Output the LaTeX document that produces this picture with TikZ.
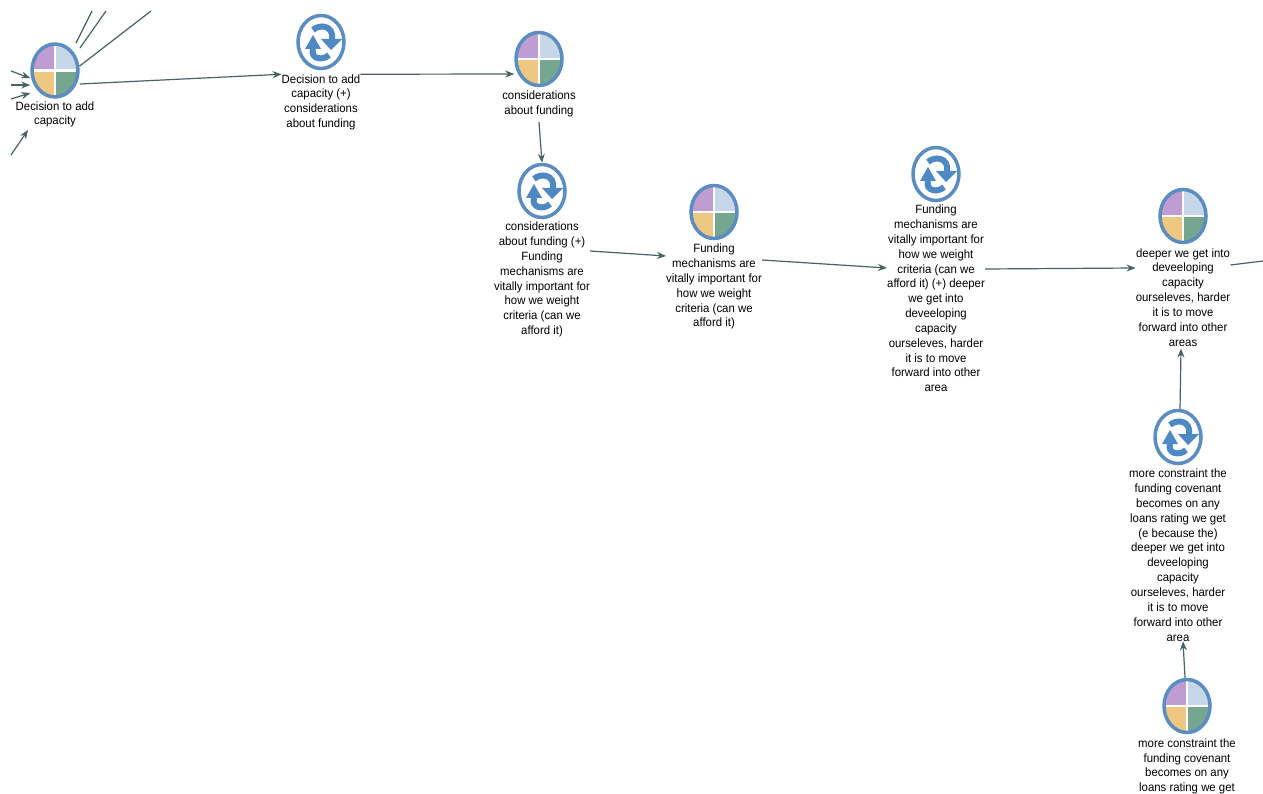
\documentclass[tikz,border=0pt]{standalone}
\usepackage{fontspec}
\setmainfont{Liberation Sans}
\usepackage{xcolor}
\usepackage{tikz}
\usetikzlibrary{positioning,arrows.meta,shapes.geometric}
\definecolor{ringblue}{HTML}{5B8DC1}
\definecolor{loopblue}{HTML}{4F89C3}
\definecolor{linkgreen}{HTML}{476363}
\definecolor{quadpurple}{HTML}{BF9DD2}
\definecolor{quadblue}{HTML}{C6D7E9}
\definecolor{quadyellow}{HTML}{EEC882}
\definecolor{quadgreen}{HTML}{77A690}
\tikzstyle{line} = [draw=linkgreen,line width=1.2pt]
\tikzstyle{link} = [line,-{Stealth[length=9pt,width=7pt]}]
\tikzstyle{caption} = [align=center,inner sep=0pt,font=\fontsize{12}{14.85}\selectfont\addfontfeatures{FakeStretch=0.95}]
\tikzstyle{concept} = [ellipse,draw=ringblue,line width=3.5pt,minimum width=46pt,minimum height=53pt,inner sep=0pt,
  path picture={
    \begin{scope}[shift={(path picture bounding box.center)}]
      \fill[quadpurple] (-30,-30) rectangle (0,0);
      \fill[quadblue] (0,-30) rectangle (30,0);
      \fill[quadyellow] (-30,0) rectangle (0,30);
      \fill[quadgreen] (0,0) rectangle (30,30);
      \fill[white] (-30,-1.4) rectangle (30,1.4);
      \fill[white] (-1.4,-30) rectangle (1.4,30);
    \end{scope}
  }]
\tikzstyle{loopnode} = [ellipse,draw=ringblue,line width=3.5pt,minimum width=46pt,minimum height=53pt,inner sep=0pt,
  path picture={
    \begin{scope}[shift={(path picture bounding box.center)}]
      \draw[loopblue,line width=6pt] (-8,-12) .. controls (-2,-18) and (13,-17) .. (11,-3);
      \fill[loopblue] (0,-3) -- (21,-3) -- (10,8) -- cycle;
      \draw[loopblue,line width=6pt] (8,13) .. controls (2,19) and (-11,17) .. (-8,7);
      \fill[loopblue] (0,7) -- (-16,7) -- (-8,-7) -- cycle;
    \end{scope}
  }]
\begin{document}
\begin{tikzpicture}[x=1pt,y=-1pt,node distance=4pt]
    \useasboundingbox[fill=white] (0,0) rectangle (1263,794);
    \node[concept] (decision) at (55,70.5) {};
    \node[caption] (decisioncap) [below = 2.5pt of decision] {Decision to add\\capacity};
    \node[loopnode] (loopa) at (321,42) {};
    \node[caption] (loopacap) [below = 4pt of loopa] {Decision to add\\capacity (+)\\considerations\\about funding};
    \node[concept] (funding) at (539,59) {};
    \node[caption] (fundingcap) [below = 3.5pt of funding] {considerations\\about funding};
    \node[loopnode] (loopb) at (542,191) {};
    \node[caption] (loopbcap) [below = 2.5pt of loopb] {considerations\\about funding (+)\\Funding\\mechanisms are\\vitally important for\\how we weight\\criteria (can we\\afford it)};
    \node[concept] (mechanisms) at (714,212) {};
    \node[caption] (mechanismscap) [below = 3.5pt of mechanisms] {Funding\\mechanisms are\\vitally important for\\how we weight\\criteria (can we\\afford it)};
    \node[loopnode] (loopc) at (936,174) {};
    \node[caption] (loopccap) [below = 2.5pt of loopc] {Funding\\mechanisms are\\vitally important for\\how we weight\\criteria (can we\\afford it) (+) deeper\\we get into\\deveeloping\\capacity\\ourseleves, harder\\it is to move\\forward into other\\area};
    \node[concept] (deeper) at (1183,216) {};
    \node[caption] (deepercap) [below = 4pt of deeper] {deeper we get into\\deveeloping\\capacity\\ourseleves, harder\\it is to move\\forward into other\\areas};
    \node[loopnode] (loopd) at (1178,437) {};
    \node[caption] (loopdcap) [below = 3.5pt of loopd] {more constraint the\\funding covenant\\becomes on any\\loans rating we get\\(e because the)\\deeper we get into\\deveeloping\\capacity\\ourseleves, harder\\it is to move\\forward into other\\area};
    \node[concept] (covenant) at (1187,706) {};
    \node[caption] (covenantcap) [below = 4pt of covenant] {more constraint the\\funding covenant\\becomes on any\\loans rating we get};
    % stubs cut off by the edge of the view
    \coordinate (stuba) at (92,11);
    \coordinate (stubb) at (106,11);
    \coordinate (stubc) at (151,11);
    \coordinate (stubd) at (76,43);
    \coordinate (stube) at (80,48);
    \coordinate (ina) at (11,71);
    \coordinate (inb) at (11,85);
    \coordinate (inc) at (11,99);
    \coordinate (ind) at (11,155);
    \coordinate (ine) at (28,130);
    \coordinate (outa) at (1263,261);
    \path [line] (stuba) -- (stubd);
    \path [line] (stubb) -- (stube);
    \path [line] (stubc) -- (decision.10);
    \path [link] (ina) -- (decision.west |- 0,78);
    \path [link] (inb) -- (decision.west |- inb);
    \path [link] (inc) -- (decision.west |- 0,93);
    \path [link] (ind) -- (ine);
    \path [link] (decision.east |- 0,84) -- (loopacap.north west);
    \path [link] (loopacap.north east) -- (funding.west |- 0,74);
    \path [link] ([yshift=-5pt]fundingcap.south) -- (loopb.north);
    \path [link] (loopbcap.east |- 0,251) -- (mechanismscap.west |- 0,256);
    \path [link] (mechanismscap.east |- 0,260) -- (loopccap.west |- 0,268);
    \path [link] (loopccap.east |- 0,269) -- (deepercap.west |- 0,268);
    \path [line] (deepercap.east |- 0,265) -- (outa);
    \path [link] ([xshift=2pt]loopd.north) -- ([xshift=-2pt,yshift=-2pt]deepercap.south);
    \path [link] ([xshift=-2pt]covenant.north) -- ([xshift=5pt]loopdcap.south);
\end{tikzpicture}
\end{document}
